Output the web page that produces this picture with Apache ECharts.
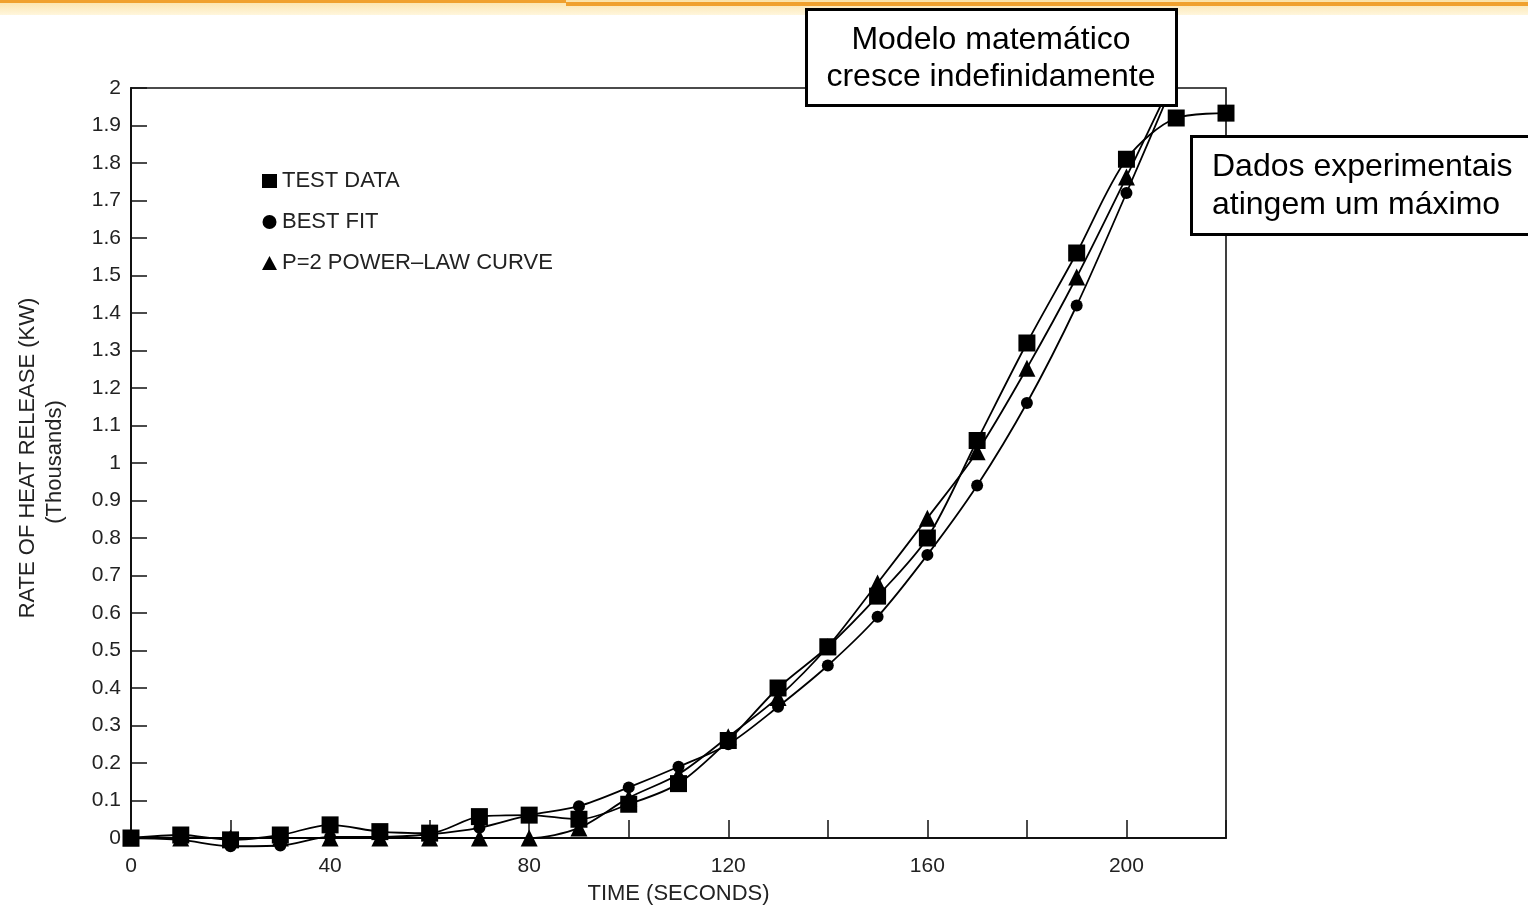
<!DOCTYPE html>
<html>
<head>
<meta charset="utf-8">
<script src="https://cdn.jsdelivr.net/npm/echarts@6/dist/echarts.min.js"></script>
<style>
html,body{margin:0;padding:0;background:#fff;}
#chart{width:1528px;height:906px;}
</style>
</head>
<body>
<div id="chart"></div>
<script>
// ---- data ----
const time = [0,10,20,30,40,50,60,70,80,90,100,110,120,130,140,150,160,170,180,190,200,210,220];
const testData = [0,0.008,-0.005,0.008,0.035,0.017,0.013,0.057,0.061,0.05,0.09,0.145,0.26,0.40,0.51,0.645,0.80,1.06,1.32,1.56,1.81,1.92,1.933];
const bestFit  = [0,-0.005,-0.022,-0.02,0.003,0.003,0.01,0.027,0.061,0.085,0.135,0.19,0.25,0.35,0.46,0.59,0.755,0.94,1.16,1.42,1.72,2.03];
const powerLaw = [0,0,0,0,0,0,0,0,0,0.027,0.107,0.17,0.27,0.375,0.51,0.68,0.853,1.03,1.253,1.496,1.763,2.04];
const seriesNames = ['TEST DATA','BEST FIT','P=2 POWER\u2013LAW CURVE'];
const xLabelValues = [0,40,80,120,160,200];
const noteTop = ['Modelo matemático','cresce indefinidamente'];
const noteRight = ['Dados experimentais','atingem um máximo'];

const FONT = "'Liberation Sans', Arial, Helvetica, sans-serif";
const chart = echarts.init(document.getElementById('chart'), null, {renderer:'canvas'});

function pairs(vals, hideFrom){
  return vals.map((v,i)=>{
    const item = {value:[time[i], v]};
    if (hideFrom !== undefined && time[i] >= hideFrom) item.symbol = 'none';
    return item;
  });
}

const lineBase = {
  type:'line', smooth:0.3, clip:false,
  lineStyle:{color:'#000', width:1.8},
  itemStyle:{color:'#000'},
  emphasis:{disabled:true}, animation:false
};

chart.setOption({
  animation:false,
  backgroundColor:'#fff',
  textStyle:{fontFamily:FONT},
  grid:{left:131, top:88, right:302, bottom:68, containLabel:false, outerBoundsMode:'none',
    show:true, borderColor:'#111', borderWidth:1.6, backgroundColor:'transparent'},
  legend:{
    orient:'vertical', left:257, top:165, itemWidth:15, itemHeight:14, itemGap:19,
    textStyle:{fontSize:22, color:'#222', fontFamily:FONT},
    data:[{name:seriesNames[0], icon:'rect'},{name:seriesNames[1], icon:'circle'},{name:seriesNames[2], icon:'triangle'}],
    selectedMode:false
  },
  xAxis:{
    type:'value', min:0, max:220, interval:20,
    name:'TIME (SECONDS)', nameLocation:'middle', nameGap:45,
    nameTextStyle:{fontSize:22, color:'#222', fontFamily:FONT},
    axisLine:{lineStyle:{color:'#111', width:2}},
    axisTick:{inside:true, length:18, lineStyle:{color:'#111', width:1.5}},
    axisLabel:{fontSize:21, color:'#222', margin:18, fontFamily:FONT,
      formatter:v=> xLabelValues.indexOf(v) >= 0 ? String(v) : ''},
    splitLine:{show:false}
  },
  yAxis:{
    type:'value', min:0, max:2, interval:0.1,
    axisLine:{lineStyle:{color:'#111', width:2}},
    axisTick:{inside:true, length:16, lineStyle:{color:'#111', width:1.5}},
    axisLabel:{fontSize:21, color:'#222', margin:10, fontFamily:FONT,
      formatter:v=> String(Math.round(v*10)/10)},
    splitLine:{show:false}
  },
  series:[
    Object.assign({}, lineBase, {name:seriesNames[1], symbol:'circle', symbolSize:12, data:pairs(bestFit, 205), z:3}),
    Object.assign({}, lineBase, {name:seriesNames[2], symbol:'triangle', symbolSize:17, data:pairs(powerLaw, 205), z:4}),
    Object.assign({}, lineBase, {name:seriesNames[0], symbol:'rect', symbolSize:17, data:pairs(testData), z:5})
  ],
  graphic:[
    {type:'rect', z:200, shape:{x:0,y:0,width:1528,height:15},
      style:{fill:new echarts.graphic.LinearGradient(0,0,0,1,[{offset:0,color:'#fbe2a6'},{offset:1,color:'#fff6dc'}])}},
    {type:'rect', z:201, shape:{x:0,y:0,width:566,height:3}, style:{fill:'#f0a12e'}},
    {type:'rect', z:201, shape:{x:566,y:2,width:962,height:4}, style:{fill:'#f0a12e'}},
    {type:'rect', z:300, shape:{x:806.5,y:9.5,width:370,height:96},
      style:{fill:'#fff', stroke:'#000', lineWidth:3}},
    {type:'text', z:301, x:991, y:40, style:{text:noteTop[0], fill:'#000', font:'32px '+FONT, align:'center', verticalAlign:'middle'}},
    {type:'text', z:301, x:991, y:77, style:{text:noteTop[1], fill:'#000', font:'32px '+FONT, align:'center', verticalAlign:'middle'}},
    {type:'rect', z:300, shape:{x:1191.5,y:136.5,width:345,height:98},
      style:{fill:'#fff', stroke:'#000', lineWidth:3}},
    {type:'text', z:301, x:1212, y:167, style:{text:noteRight[0], fill:'#000', font:'32px '+FONT, align:'left', verticalAlign:'middle'}},
    {type:'text', z:301, x:1212, y:205, style:{text:noteRight[1], fill:'#000', font:'32px '+FONT, align:'left', verticalAlign:'middle'}},
    {type:'text', z:100, x:28, y:458, rotation:Math.PI/2,
      style:{text:'RATE OF HEAT RELEASE (KW)', fill:'#222', font:'22px '+FONT, align:'center', verticalAlign:'middle'}},
    {type:'text', z:100, x:55, y:462, rotation:Math.PI/2,
      style:{text:'(Thousands)', fill:'#222', font:'22px '+FONT, align:'center', verticalAlign:'middle'}}
  ]
});
</script>
</body>
</html>
